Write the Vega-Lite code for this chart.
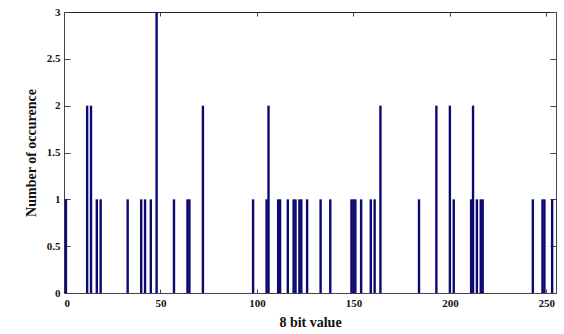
{
  "$schema": "https://vega.github.io/schema/vega-lite/v6.json",
  "width": 492,
  "height": 281,
  "autosize": "none",
  "padding": {"left": 64, "top": 12, "right": 8, "bottom": 41},
  "background": "white",
  "config": {
    "view": {"stroke": null},
    "axis": {
      "labelFont": "Liberation Serif",
      "labelFontWeight": "bold",
      "labelFontSize": 11,
      "labelColor": "#111",
      "titleFont": "Liberation Serif",
      "titleFontWeight": "bold",
      "titleFontSize": 14,
      "titleColor": "#111",
      "domainColor": "#444",
      "tickColor": "#444",
      "grid": false
    }
  },
  "data": {
    "values": [
      {"v": 1, "n": 1}, {"v": 12, "n": 2}, {"v": 14, "n": 2}, {"v": 17, "n": 1},
      {"v": 19, "n": 1}, {"v": 33, "n": 1}, {"v": 40, "n": 1}, {"v": 42, "n": 1},
      {"v": 45, "n": 1}, {"v": 48, "n": 3}, {"v": 57, "n": 1}, {"v": 64, "n": 1},
      {"v": 65, "n": 1}, {"v": 72, "n": 2}, {"v": 98, "n": 1}, {"v": 105, "n": 1},
      {"v": 106, "n": 2}, {"v": 111, "n": 1}, {"v": 112, "n": 1}, {"v": 116, "n": 1},
      {"v": 119, "n": 1}, {"v": 120, "n": 1}, {"v": 122, "n": 1}, {"v": 123, "n": 1},
      {"v": 126, "n": 1}, {"v": 133, "n": 1}, {"v": 138, "n": 1}, {"v": 149, "n": 1},
      {"v": 150, "n": 1}, {"v": 151, "n": 1}, {"v": 154, "n": 1}, {"v": 159, "n": 1},
      {"v": 161, "n": 1}, {"v": 164, "n": 2}, {"v": 184, "n": 1}, {"v": 193, "n": 2},
      {"v": 200, "n": 2}, {"v": 202, "n": 1}, {"v": 211, "n": 1}, {"v": 212, "n": 2},
      {"v": 214, "n": 1}, {"v": 216, "n": 1}, {"v": 217, "n": 1}, {"v": 243, "n": 1},
      {"v": 248, "n": 1}, {"v": 249, "n": 1}, {"v": 253, "n": 1}
    ]
  },
  "layer": [
    {
      "mark": {"type": "rule", "color": "#0a0a70", "strokeWidth": 2.4, "strokeCap": "butt"},
      "encoding": {
        "x": {
          "field": "v", "type": "quantitative",
          "scale": {"domain": [0, 255], "nice": false, "zero": false},
          "axis": {"orient": "bottom", "values": [0, 50, 100, 150, 200, 250], "tickSize": -4, "labelPadding": 8, "title": "8 bit value", "titlePadding": 7}
        },
        "y": {
          "field": "n", "type": "quantitative",
          "scale": {"domain": [0, 3], "nice": false},
          "axis": {"orient": "left", "values": [0, 0.5, 1, 1.5, 2, 2.5, 3], "format": "~g", "tickSize": -6, "labelPadding": 10, "title": "Number of occurence", "titlePadding": 8}
        },
        "y2": {"datum": 0}
      }
    },
    {
      "mark": {"type": "rule", "opacity": 0},
      "encoding": {
        "x": {
          "field": "v", "type": "quantitative",
          "axis": {"orient": "top", "values": [0, 50, 100, 150, 200, 250], "tickSize": -4, "labels": false, "title": null, "domainColor": "#222"}
        },
        "y": {
          "field": "n", "type": "quantitative",
          "axis": {"orient": "right", "values": [0, 0.5, 1, 1.5, 2, 2.5, 3], "tickSize": -6, "labels": false, "title": null}
        },
        "y2": {"datum": 0}
      }
    }
  ],
  "resolve": {"axis": {"x": "independent", "y": "independent"}}
}
